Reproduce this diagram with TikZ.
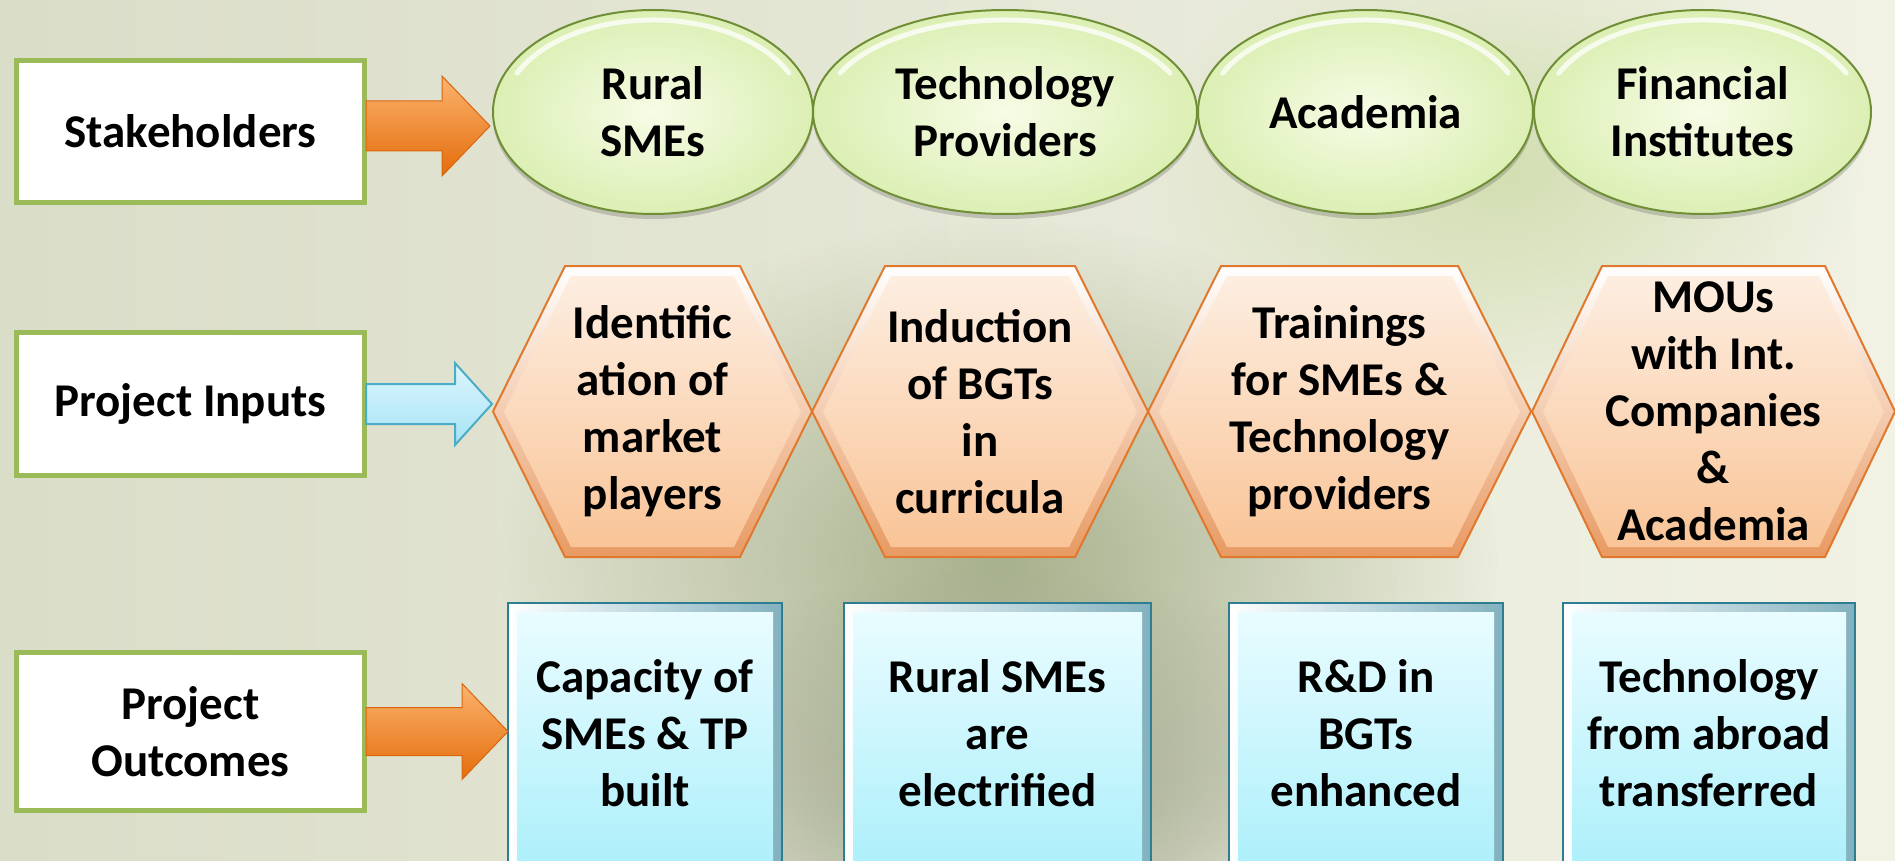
\documentclass[tikz,border=0pt]{standalone}
\usepackage{fontspec}
\setmainfont{Carlito}
\usetikzlibrary{shapes.geometric,shadows,fadings,calc}

\tikzfading[name=softblob, inner color=transparent!0, outer color=transparent!100]

\definecolor{bgL}{HTML}{DADDC8}
\definecolor{bgR}{HTML}{F1F2E4}
\definecolor{bgGreen}{HTML}{7E8C5C}
\definecolor{bgDark}{HTML}{858D70}
\definecolor{bgLeaf}{HTML}{B9CF85}
\definecolor{lblgreen}{HTML}{9BBB59}
\definecolor{ellB}{HTML}{6F8E36}
\definecolor{ellIn}{HTML}{F6FCE6}
\definecolor{ellOut}{HTML}{DCEFB4}
\definecolor{hexB}{HTML}{E0782E}
\definecolor{hexTop}{HTML}{FDEEE1}
\definecolor{hexBot}{HTML}{F9C497}
\definecolor{boxB}{HTML}{2F7D93}
\definecolor{boxTop}{HTML}{E9FCFF}
\definecolor{boxBot}{HTML}{A5EEFA}
\definecolor{orTop}{HTML}{FBB36E}
\definecolor{orBot}{HTML}{E46C0A}
\definecolor{orB}{HTML}{D9660F}
\definecolor{blTop}{HTML}{DDF6FD}
\definecolor{blBot}{HTML}{A6E3F5}
\definecolor{blB}{HTML}{4BACC6}

\newcommand{\txt}{\fontsize{47}{57}\selectfont\bfseries}

\tikzset{
  lbl/.style={rectangle, draw=lblgreen, line width=5pt, fill=white, inner sep=0pt,
    align=center, font=\txt, minimum width=348pt},
  txtnode/.style={align=center, font=\txt, inner sep=0pt},
  stake/.style={ellipse, draw=ellB, line width=2pt, inner color=ellIn, outer color=ellOut,
    inner sep=0pt, align=center, font=\txt, minimum height=204pt,
    drop shadow={shadow xshift=0pt, shadow yshift=-5pt, opacity=.25, fill=black!70}},
  hilite/.style={white, line width=5pt, opacity=.75, line cap=round},
  orarrow/.style={top color=orTop, bottom color=orBot, draw=orB, line width=1pt},
  blarrow/.style={top color=blTop, bottom color=blBot, draw=blB, line width=2pt},
  hexouter/.style={top color=white, bottom color=hexB!75},
  hexinner/.style={top color=hexTop, bottom color=hexBot},
  hexline/.style={draw=hexB, line width=2pt},
  boxouter/.style={left color=white, right color=boxB!60},
  boxinner/.style={top color=boxTop, bottom color=boxBot},
  boxline/.style={draw=boxB, line width=2.5pt},
}

% #1 name, #2 cx, #3 half width, #4 text
\newcommand{\stk}[4]{%
  \node[stake, minimum width=#3*2] (#1) at (#2,-112) {#4};
  \draw[hilite] ($(#1.center)+(155:{#3-10} and 92)$)
     arc[start angle=155, end angle=25, x radius=#3-10, y radius=92];
}

% #1 name, #2 cx, #3 cy (image y), #4 half width, #5 inset, #6 text
\newcommand{\hexa}[6]{%
  \path[hexouter] (#2-#4,-#3) -- (#2-#4+#5,-#3+145.5) -- (#2+#4-#5,-#3+145.5) -- (#2+#4,-#3)
     -- (#2+#4-#5,-#3-145.5) -- (#2-#4+#5,-#3-145.5) -- cycle;
  \path[hexinner] (#2-#4+11,-#3) -- (#2-#4+#5+6,-#3+135.5) -- (#2+#4-#5-6,-#3+135.5) -- (#2+#4-11,-#3)
     -- (#2+#4-#5-6,-#3-135.5) -- (#2-#4+#5+6,-#3-135.5) -- cycle;
  \path[hexline] (#2-#4,-#3) -- (#2-#4+#5,-#3+145.5) -- (#2+#4-#5,-#3+145.5) -- (#2+#4,-#3)
     -- (#2+#4-#5,-#3-145.5) -- (#2-#4+#5,-#3-145.5) -- cycle;
  \coordinate (#1w) at (#2-#4,-#3);
  \node[txtnode] (#1) at (#2,-#3) {#6};
}

% #1 name, #2 left, #3 right, #4 top, #5 text
\newcommand{\obox}[5]{%
  \path[boxouter] (#2,-#4) rectangle (#3,-900);
  \path[boxinner] (#2+9,-#4-9) rectangle (#3-9,-900);
  \path[boxline] (#2,-#4) rectangle (#3,-900);
  \coordinate (#1w) at (#2,-731.5);
  \node[txtnode] (#1) at ({(#2+#3)/2},-733) {#5};
}

\begin{document}
\begin{tikzpicture}[x=1pt,y=1pt]
\useasboundingbox (0,0) rectangle (1895,-861);
\clip (0,0) rectangle (1895,-861);

% background
\shade[left color=bgL, right color=bgR] (0,0) rectangle (1895,-861);
\fill[bgGreen, opacity=.6, path fading=softblob] (1000,-560) ellipse (500 and 340);
\fill[bgDark, opacity=.65, path fading=softblob] (1000,-800) ellipse (430 and 230);
\fill[bgLeaf, opacity=.5, path fading=softblob] (1500,-170) ellipse (360 and 240);
\draw[white, line width=40pt, opacity=.35] (400,10) .. controls (420,170) and (560,280) .. (800,420);
\draw[gray, line width=7pt, opacity=.3] (445,20) .. controls (470,190) and (600,300) .. (790,400);

% row 1: stakeholders
\stk{rural}{653}{160}{Rural\\SMEs}
\stk{tech}{1005}{192}{Technology\\Providers}
\stk{acad}{1365.5}{167.5}{Academia}
\stk{fin}{1702.5}{168.5}{Financial\\Institutes}

% row 2: project inputs
\hexa{hex1}{652.5}{411.5}{159.5}{72}{Identific\\ation of\\market\\players}
\hexa{hex2}{980}{411.5}{168}{73}{Induction\\of BGTs\\in\\curricula}
\hexa{hex3}{1339.5}{411.5}{191.5}{73}{Trainings\\for SMEs \&\\Technology\\providers}
\hexa{hex4}{1713.5}{411.5}{181.5}{70}{MOUs\\with Int.\\Companies\\\&\\Academia}

% row 3: project outcomes
\obox{box1}{508}{782}{603}{Capacity of\\SMEs \& TP\\built}
\obox{box2}{844}{1151}{603}{Rural SMEs\\are\\electrified}
\obox{box3}{1229}{1503}{603}{R\&D in\\BGTs\\enhanced}
\obox{box4}{1563}{1855}{603}{Technology\\from abroad\\transferred}

% label boxes
\node[lbl, minimum height=142pt] (lbl1) at (190.5,-131.5) {Stakeholders};
\node[lbl, minimum height=143pt] (lbl2) at (190.5,-404) {Project Inputs};
\node[lbl, minimum height=158pt] (lbl3) at (190.5,-731.5) {Project\\Outcomes};

% block arrows
\coordinate (y1) at (0,-126);
\coordinate (t1) at ([xshift=-2pt]rural.west |- y1);
\coordinate (s1) at ([xshift=-1pt]lbl1.east |- y1);
\path[orarrow] ($(s1)+(0,25)$) -- ($(t1)+(-48,25)$) -- ($(t1)+(-48,50)$) -- (t1)
  -- ($(t1)+(-48,-50)$) -- ($(t1)+(-48,-25)$) -- ($(s1)+(0,-25)$) -- cycle;

\coordinate (t2) at ([xshift=-1pt]hex1w |- lbl2.east);
\coordinate (s2) at ([xshift=-1pt]lbl2.east);
\path[blarrow] ($(s2)+(0,20)$) -- ($(t2)+(-37,20)$) -- ($(t2)+(-37,41)$) -- (t2)
  -- ($(t2)+(-37,-41)$) -- ($(t2)+(-37,-20)$) -- ($(s2)+(0,-20)$) -- cycle;

\coordinate (t3) at (box1w |- lbl3.east);
\coordinate (s3) at ([xshift=-1pt]lbl3.east);
\path[orarrow] ($(s3)+(0,24)$) -- ($(t3)+(-46,24)$) -- ($(t3)+(-46,48)$) -- (t3)
  -- ($(t3)+(-46,-48)$) -- ($(t3)+(-46,-24)$) -- ($(s3)+(0,-24)$) -- cycle;
\end{tikzpicture}
\end{document}
